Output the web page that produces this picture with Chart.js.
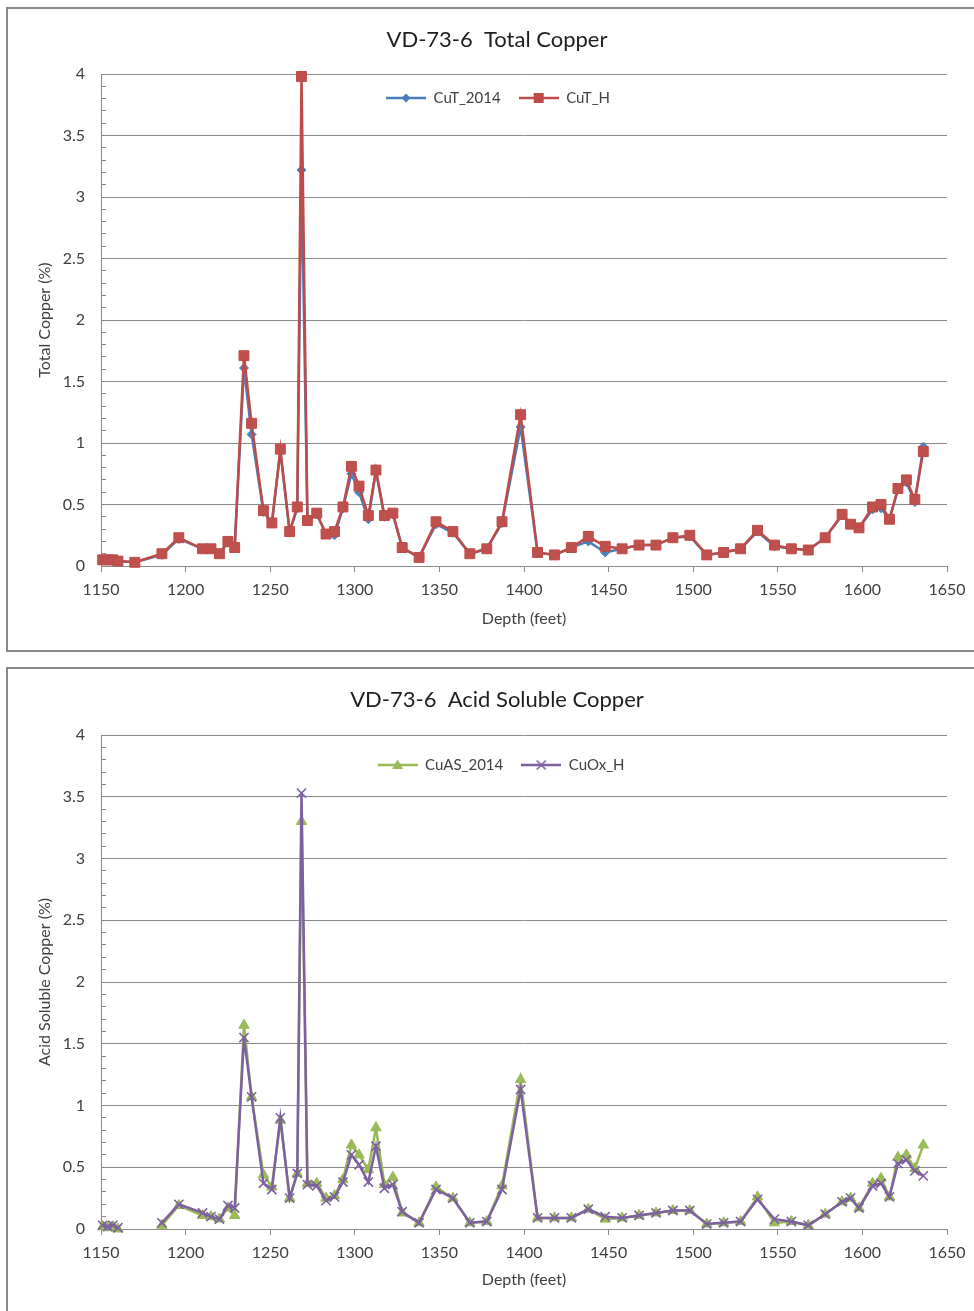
<!DOCTYPE html>
<html>
<head>
<meta charset="utf-8">
<script src="https://cdn.jsdelivr.net/npm/chart.js@4.4.1/dist/chart.umd.min.js"></script>
<style>
html,body{margin:0;padding:0;background:#fff;width:974px;height:1311px;overflow:hidden;position:relative;}
.panel{position:absolute;border:2px solid #8a8a8a;box-sizing:border-box;background:#fff;}
#p1{left:6px;top:7px;width:1000px;height:645px;}
#p2{left:6px;top:667px;width:1000px;height:700px;}
canvas{position:absolute;}
#c1{left:8px;top:10px;}
#c2{left:8px;top:670px;}
</style>
</head>
<body>
<div class="panel" id="p1"></div>
<div class="panel" id="p2"></div>
<canvas id="c1" width="966" height="638"></canvas>
<canvas id="c2" width="966" height="639"></canvas>
<script>
// ---------- data ----------
const depth = [1151,1154,1157,1160,1170,1186,1196,1210,1215,1220,1225,1229,1234.5,1239,1246,1251,1256,1261.5,1266,1268.5,1272,1277.5,1283,1288,1293,1298,1302.5,1308,1312.5,1317.5,1322.5,1328,1338,1348,1358,1368,1378,1387,1398,1408,1418,1428,1438,1448,1458,1468,1478,1488,1498,1508,1518,1528,1538,1548,1558,1568,1578,1588,1593,1598,1606,1611,1616,1621,1626,1631,1636];

const cuT2014 = [0.05,0.05,0.05,0.04,0.03,0.09,0.22,0.14,0.14,0.10,0.19,0.15,1.61,1.07,0.44,0.35,0.93,0.28,0.47,3.22,0.37,0.42,0.26,0.25,0.47,0.75,0.60,0.38,0.77,0.40,0.42,0.15,0.07,0.34,0.27,0.10,0.14,0.35,1.13,0.11,0.09,0.15,0.20,0.11,0.14,0.17,0.17,0.23,0.24,0.09,0.11,0.14,0.28,0.16,0.14,0.13,0.23,0.41,0.34,0.31,0.46,0.47,0.38,0.62,0.68,0.52,0.97];

const cuTH = [0.05,0.05,0.05,0.04,0.03,0.10,0.23,0.14,0.14,0.10,0.20,0.15,1.71,1.16,0.45,0.35,0.95,0.28,0.48,3.98,0.37,0.43,0.26,0.28,0.48,0.81,0.65,0.41,0.78,0.41,0.43,0.15,0.07,0.36,0.28,0.10,0.14,0.36,1.23,0.11,0.09,0.15,0.24,0.16,0.14,0.17,0.17,0.23,0.25,0.09,0.11,0.14,0.29,0.17,0.14,0.13,0.23,0.42,0.34,0.31,0.48,0.50,0.38,0.63,0.70,0.54,0.93];

const cuAS2014 = [0.02,0.01,0.02,0.00,null,0.03,0.19,0.11,0.10,0.08,0.17,0.11,1.65,1.07,0.44,0.34,0.88,0.25,0.45,3.30,0.37,0.37,0.25,0.27,0.40,0.68,0.60,0.48,0.82,0.36,0.42,0.13,0.05,0.34,0.25,0.05,0.06,0.35,1.21,0.09,0.09,0.09,0.16,0.08,0.09,0.11,0.13,0.15,0.15,0.04,0.05,0.06,0.26,0.05,0.06,0.03,0.12,0.22,0.25,0.17,0.37,0.41,0.26,0.58,0.60,0.49,0.68];

const cuOxH = [0.03,0.02,0.03,0.01,null,0.05,0.20,0.13,0.10,0.08,0.19,0.17,1.55,1.07,0.37,0.32,0.90,0.25,0.45,3.53,0.36,0.35,0.23,0.26,0.38,0.60,0.52,0.38,0.67,0.33,0.36,0.14,0.05,0.32,0.25,0.05,0.06,0.32,1.13,0.09,0.09,0.09,0.16,0.10,0.09,0.11,0.13,0.15,0.15,0.04,0.05,0.06,0.24,0.08,0.06,0.03,0.12,0.22,0.25,0.17,0.35,0.37,0.26,0.53,0.56,0.47,0.43];

const xTicks = [1150,1200,1250,1300,1350,1400,1450,1500,1550,1600,1650];
const yMajorTicks = [0,0.5,1,1.5,2,2.5,3,3.5,4];

// ---------- styling ----------
const FONT = 'Lato, "Open Sans", sans-serif';
const GRID = '#8a8a8a';
const TXT = '#404040';

function pts(arr){ return depth.map((d,i)=>({x:d, y:arr[i]})); }
function isMajor(v){ return yMajorTicks.some(m => Math.abs(m - v) < 1e-6); }

function legendIcon(color, shape){
  const c = document.createElement('canvas');
  c.width = 40; c.height = 14;
  const g = c.getContext('2d');
  g.strokeStyle = color; g.fillStyle = color; g.lineWidth = 2.5;
  g.beginPath(); g.moveTo(0,7); g.lineTo(40,7); g.stroke();
  const x = 20, y = 7;
  g.beginPath();
  if (shape === 'diamond'){ g.moveTo(x,y-4.5); g.lineTo(x+4.5,y); g.lineTo(x,y+4.5); g.lineTo(x-4.5,y); g.closePath(); g.fill(); }
  else if (shape === 'square'){ g.rect(x-5,y-5,10,10); g.fill(); }
  else if (shape === 'triangle'){ g.moveTo(x,y-5.5); g.lineTo(x+5.5,y+4); g.lineTo(x-5.5,y+4); g.closePath(); g.fill(); }
  else if (shape === 'cross'){ g.lineWidth = 1.6; g.moveTo(x-4.5,y-4.5); g.lineTo(x+4.5,y+4.5); g.moveTo(x+4.5,y-4.5); g.lineTo(x-4.5,y+4.5); g.stroke(); }
  return c;
}

const panelAlign = {
  id: 'panelAlign',
  afterLayout(chart, args, o){
    const t = chart.titleBlock;
    if (t){ t.left = o.titleCx - 420; t.right = o.titleCx + 420; t.width = 840; }
    const lg = chart.legend;
    if (lg){
      const pad = lg.options.labels.padding;
      const fs = lg.options.labels.font.size;
      const h = fs + pad + 10;
      lg.top = o.legendY - pad - fs/2;
      lg.bottom = lg.top + h; lg.height = h;
      lg.left = o.legendCx - 420; lg.right = o.legendCx + 420; lg.width = 840;
    }
  }
};

function makeChart(id, cfg){
  return new Chart(document.getElementById(id), {
    type: 'line',
    data: { datasets: cfg.datasets },
    options: {
      responsive: false,
      animation: false,
      events: [],
      layout: { padding: { left: 0, right: 27, top: 0, bottom: 0 } },
      plugins: {
        title: {
          display: true, text: cfg.title, color: '#1e1e1e',
          font: { family: FONT, size: 22, weight: 'normal', lineHeight: 1.2 },
          padding: { top: 16.8, bottom: cfg.titleBottom }
        },
        legend: {
          display: true, position: 'top', maxHeight: 1,
          labels: {
            usePointStyle: true, pointStyleWidth: 40, boxHeight: 14, padding: 18,
            color: TXT, font: { family: FONT, size: 15 },
            sort: (a,b) => a.datasetIndex - b.datasetIndex,
            generateLabels(chart){
              const items = Chart.defaults.plugins.legend.labels.generateLabels(chart);
              items.forEach(it => { it.pointStyle = cfg.icons[it.datasetIndex]; });
              return items;
            }
          }
        },
        tooltip: { enabled: false },
        panelAlign: { titleCx: 489, legendCx: cfg.legendCx, legendY: cfg.legendY }
      },
      scales: {
        x: {
          type: 'linear', min: 1150, max: 1650,
          afterBuildTicks: s => { s.ticks = xTicks.map(v => ({ value: v })); },
          afterFit: s => { s.height = cfg.xAxisH; },
          ticks: { color: TXT, font: { family: FONT, size: 16 }, padding: 8.4, maxRotation: 0, autoSkip: false, callback: v => String(v) },
          grid: { drawOnChartArea: false, drawTicks: true, tickLength: 6, color: GRID },
          border: { display: true, color: GRID, width: 1 },
          title: { display: true, text: 'Depth (feet)', color: TXT, font: { family: FONT, size: 16, lineHeight: 1.2 }, padding: { top: 0, bottom: 19.4 } }
        },
        y: {
          type: 'linear', min: 0, max: 4,
          afterFit: s => { s.width = 93; },
          ticks: { stepSize: 0.1, autoSkip: false, color: TXT, font: { family: FONT, size: 16 }, padding: 21,
                   callback: v => isMajor(v) ? String(Math.round(v*10)/10) : '' },
          grid: { color: ctx => isMajor(ctx.tick.value) ? GRID : 'rgba(0,0,0,0)', tickColor: GRID, tickLength: -5, lineWidth: 1 },
          border: { display: true, color: GRID, width: 1 },
          title: { display: true, text: cfg.yTitle, color: TXT, font: { family: FONT, size: 16, lineHeight: 1.2 }, padding: { top: 27.4, bottom: 0 } }
        }
      }
    },
    plugins: [panelAlign]
  });
}

makeChart('c1', {
  title: 'VD-73-6  Total Copper',
  yTitle: 'Total Copper (%)',
  titleBottom: 19.8, xAxisH: 82, legendCx: 490, legendY: 88,
  icons: [legendIcon('#4a7ebb','diamond'), legendIcon('#be4b48','square')],
  datasets: [
    { label: 'CuT_2014', data: pts(cuT2014), borderColor: '#4a7ebb', backgroundColor: '#4f81bd', borderWidth: 2.5, tension: 0,
      pointStyle: 'rectRot', pointRadius: 4.5, pointBackgroundColor: '#4f81bd', pointBorderColor: '#4a7ebb', pointBorderWidth: 1, order: 1, clip: 12 },
    { label: 'CuT_H', data: pts(cuTH), borderColor: '#be4b48', backgroundColor: '#c0504d', borderWidth: 2.5, tension: 0,
      pointStyle: 'rect', pointRadius: 7, pointBackgroundColor: '#c0504d', pointBorderColor: '#be4b48', pointBorderWidth: 1, order: 0, clip: 12 }
  ]
});

makeChart('c2', {
  title: 'VD-73-6  Acid Soluble Copper',
  yTitle: 'Acid Soluble Copper (%)',
  titleBottom: 20.8, xAxisH: 80, legendCx: 493, legendY: 95,
  icons: [legendIcon('#98b954','triangle'), legendIcon('#7d60a0','cross')],
  datasets: [
    { label: 'CuAS_2014', data: pts(cuAS2014), borderColor: '#98b954', backgroundColor: '#9bbb59', borderWidth: 2.5, tension: 0, spanGaps: false,
      pointStyle: 'triangle', pointRadius: 6, pointBackgroundColor: '#9bbb59', pointBorderColor: '#98b954', pointBorderWidth: 1, order: 1, clip: 12 },
    { label: 'CuOx_H', data: pts(cuOxH), borderColor: '#7d60a0', backgroundColor: '#8064a2', borderWidth: 2.5, tension: 0, spanGaps: false,
      pointStyle: 'crossRot', pointRadius: 6.5, pointBackgroundColor: '#8064a2', pointBorderColor: '#7d60a0', pointBorderWidth: 1.6, order: 0, clip: 12 }
  ]
});
</script>
</body>
</html>
